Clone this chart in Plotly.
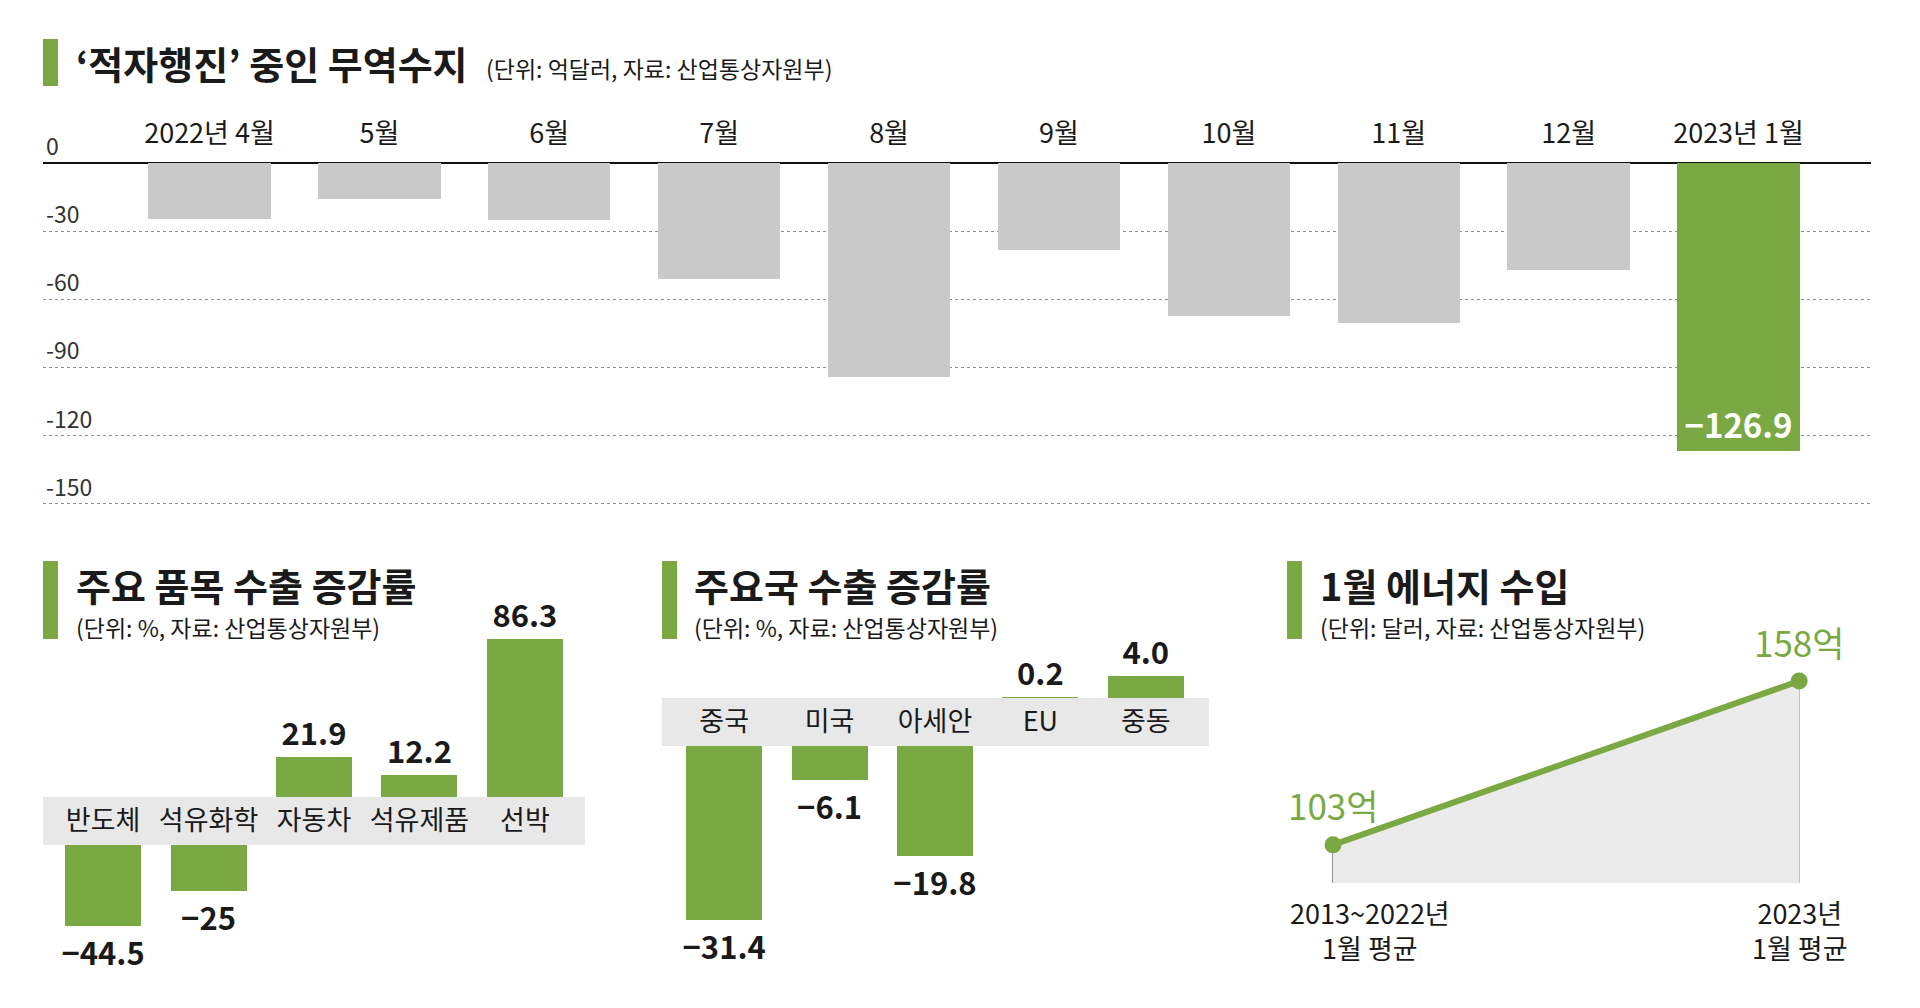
import plotly.graph_objects as go

W, H = 1920, 1008


def px(x):
    return x / W


def py(y):
    return 1 - y / H


GREEN = "#7aa843"
GRAY_BAR = "#c9c9c9"
BAND = "#e8e8e8"
TXT = "#1a1a1a"
FONT = "Noto Sans CJK KR"

# ---------------- data ----------------
months = ["2022년 4월", "5월", "6월", "7월", "8월", "9월", "10월", "11월", "12월", "2023년 1월"]
balance = [-24.7, -15.8, -24.9, -51.0, -94.3, -38.3, -67.3, -70.4, -47.1, -126.9]
highlight_month = "2023년 1월"
balance_ticks = [0, -30, -60, -90, -120, -150]
balance_ticktext = ["0", "-30", "-60", "-90", "-120", "-150"]

items = ["반도체", "석유화학", "자동차", "석유제품", "선박"]
item_growth = [-44.5, -25, 21.9, 12.2, 86.3]

countries = ["중국", "미국", "아세안", "EU", "중동"]
country_growth = [-31.4, -6.1, -19.8, 0.2, 4.0]

energy_periods = ["2013~2022년<br>1월 평균", "2023년<br>1월 평균"]
energy_import = [103, 158]
# --------------------------------------


def minus(s):
    return s.replace("-", "\u2212")


fig = go.Figure()

# ---- top: trade balance ----
bar_colors = [GREEN if m == highlight_month else GRAY_BAR for m in months]
bar_text = [minus(f"{v:.1f}") if m == highlight_month else "" for m, v in zip(months, balance)]
fig.add_trace(go.Bar(
    x=months, y=balance, width=0.72,
    marker=dict(color=bar_colors, line=dict(width=0)),
    text=bar_text, textposition="inside", insidetextanchor="end", textangle=0,
    constraintext="none",
    textfont=dict(color="white", size=33, family=FONT, weight="bold"),
    xaxis="x", yaxis="y", hoverinfo="skip", showlegend=False,
))


def split_bars(cats, vals, fmt, xa_pos, ya_pos, xa_neg, ya_neg):
    pos = [v if v > 0 else None for v in vals]
    neg = [v if v < 0 else None for v in vals]
    pos_t = [minus(fmt(v)) if v > 0 else "" for v in vals]
    neg_t = [minus(fmt(v)) if v < 0 else "" for v in vals]
    for yv, tv, xa, ya in ((pos, pos_t, xa_pos, ya_pos), (neg, neg_t, xa_neg, ya_neg)):
        fig.add_trace(go.Bar(
            x=cats, y=yv, width=0.72,
            marker=dict(color=GREEN, line=dict(width=0)),
            text=tv, textposition="outside", textangle=0, constraintext="none",
            cliponaxis=False,
            textfont=dict(color=TXT, size=31, family=FONT, weight="bold"),
            xaxis=xa, yaxis=ya, hoverinfo="skip", showlegend=False,
        ))


split_bars(items, item_growth, lambda v: f"{v:g}", "x2", "y2", "x3", "y3")
split_bars(countries, country_growth, lambda v: f"{v:.1f}", "x4", "y4", "x5", "y5")

# ---- energy imports line ----
fig.add_trace(go.Scatter(
    x=energy_periods, y=energy_import, mode="lines+markers",
    line=dict(color=GREEN, width=6), marker=dict(size=17, color=GREEN),
    fill="tozeroy", fillcolor="#ebebeb",
    xaxis="x6", yaxis="y6", hoverinfo="skip", showlegend=False,
))

hidden = dict(visible=False, fixedrange=True)

y6_range = [90.2, 185.2]

layout = dict(
    width=W, height=H, margin=dict(l=0, r=0, t=0, b=0),
    paper_bgcolor="white", plot_bgcolor="rgba(0,0,0,0)",
    font=dict(family=FONT, color=TXT),
    hovermode=False, bargap=0,
    xaxis=dict(domain=[px(43), px(1871)], anchor="y", side="top", type="category",
               range=[-0.98, 9.78], showline=False, ticks="",
               ticklabelposition="inside",
               tickfont=dict(size=27, color=TXT, family=FONT),
               showgrid=False, zeroline=False, fixedrange=True),
    yaxis=dict(domain=[py(510), py(121)], anchor="x", range=[-152.7, 18.5],
               tickmode="array", tickvals=balance_ticks, ticktext=balance_ticktext,
               ticklabelposition="inside top", ticks="",
               tickfont=dict(size=23, color="#333", family=FONT),
               showgrid=True, gridcolor="#8c8c8c", griddash="dot", gridwidth=1,
               zeroline=True, zerolinecolor="#111", zerolinewidth=2,
               showline=False, fixedrange=True),
    # items
    xaxis2=dict(domain=[px(43), px(585)], anchor="y2", type="category", range=[-0.57, 4.57], **hidden),
    yaxis2=dict(domain=[py(797), py(600)], anchor="x2", range=[0, 107.65], **hidden),
    xaxis3=dict(domain=[px(43), px(585)], anchor="y3", type="category", range=[-0.57, 4.57],
                side="top", showline=False, showgrid=False, zeroline=False,
                ticks="outside", ticklen=3, tickcolor="rgba(0,0,0,0)",
                tickfont=dict(size=27, color=TXT, family=FONT), fixedrange=True),
    yaxis3=dict(domain=[py(990), py(845)], anchor="x3", range=[-79.2, 0], **hidden),
    # countries
    xaxis4=dict(domain=[px(662), px(1209)], anchor="y4", type="category", range=[-0.59, 4.6], **hidden),
    yaxis4=dict(domain=[py(698), py(600)], anchor="x4", range=[0, 17.66], **hidden),
    xaxis5=dict(domain=[px(662), px(1209)], anchor="y5", type="category", range=[-0.59, 4.6],
                side="top", showline=False, showgrid=False, zeroline=False,
                ticks="outside", ticklen=3, tickcolor="rgba(0,0,0,0)",
                tickfont=dict(size=27, color=TXT, family=FONT), fixedrange=True),
    yaxis5=dict(domain=[py(990), py(746)], anchor="x5", range=[-43.96, 0], **hidden),
    # energy
    xaxis6=dict(domain=[px(1287), px(1850)], anchor="y6", type="category", range=[-0.0987, 1.109], **hidden),
    yaxis6=dict(domain=[py(883), py(600)], anchor="x6", range=y6_range, **hidden),
)

shapes = []
# gray bands for category labels
shapes.append(dict(type="rect", xref="paper", yref="paper", x0=px(43), x1=px(585),
                   y0=py(845), y1=py(797), fillcolor=BAND, line=dict(width=0), layer="below"))
shapes.append(dict(type="rect", xref="paper", yref="paper", x0=px(662), x1=px(1209),
                   y0=py(746), y1=py(698), fillcolor=BAND, line=dict(width=0), layer="below"))
# green title markers
for x0, y0, y1 in ((43, 39, 86), (43, 561, 639), (662, 561, 639), (1287, 561, 639)):
    shapes.append(dict(type="rect", xref="paper", yref="paper", x0=px(x0), x1=px(x0 + 15),
                       y0=py(y1), y1=py(y0), fillcolor=GREEN, line=dict(width=0)))
# vertical drop lines in the energy chart
for cat, v, col in zip(energy_periods, energy_import, ["#222222", "#9a9a9a"]):
    shapes.append(dict(type="line", xref="x6", yref="y6", x0=cat, x1=cat,
                       y0=y6_range[0], y1=v, line=dict(color=col, width=1), layer="below"))

annotations = []


def ann(x, y, text, size, bold=False, color=TXT, xanchor="left", **kw):
    annotations.append(dict(
        x=px(x), y=py(y), xref="paper", yref="paper", text=text, showarrow=False,
        xanchor=xanchor, yanchor="middle",
        font=dict(size=size, color=color, family=FONT, weight="bold" if bold else "normal"),
        **kw))


ann(74, 62, "‘적자행진’ 중인 무역수지", 38, bold=True)
ann(484, 68, "(단위: 억달러, 자료: 산업통상자원부)", 23)

ann(74, 584, "주요 품목 수출 증감률", 38, bold=True)
ann(74, 627, "(단위: %, 자료: 산업통상자원부)", 23)
ann(692, 584, "주요국 수출 증감률", 38, bold=True)
ann(692, 627, "(단위: %, 자료: 산업통상자원부)", 23)
ann(1318, 584, "1월 에너지 수입", 38, bold=True)
ann(1318, 627, "(단위: 달러, 자료: 산업통상자원부)", 23)

# energy value labels
for cat, v in zip(energy_periods, energy_import):
    annotations.append(dict(
        x=cat, y=v, xref="x6", yref="y6", text=f"{v}억", showarrow=False,
        xanchor="center", yanchor="middle", yshift=40,
        font=dict(size=35, color=GREEN, family=FONT)))

# energy x labels
for cat, shift in zip(energy_periods, [37, 1]):
    annotations.append(dict(
        x=cat, y=py(930), xref="x6", yref="paper", text=cat, showarrow=False,
        xanchor="center", yanchor="middle", align="center", xshift=shift,
        font=dict(size=27, color=TXT, family=FONT)))

layout["shapes"] = shapes
layout["annotations"] = annotations
fig.update_layout(**layout)

fig.write_html("out.html", config={"displayModeBar": False, "staticPlot": True},
               post_script="document.body.style.margin='0';document.body.style.overflow='hidden';")
